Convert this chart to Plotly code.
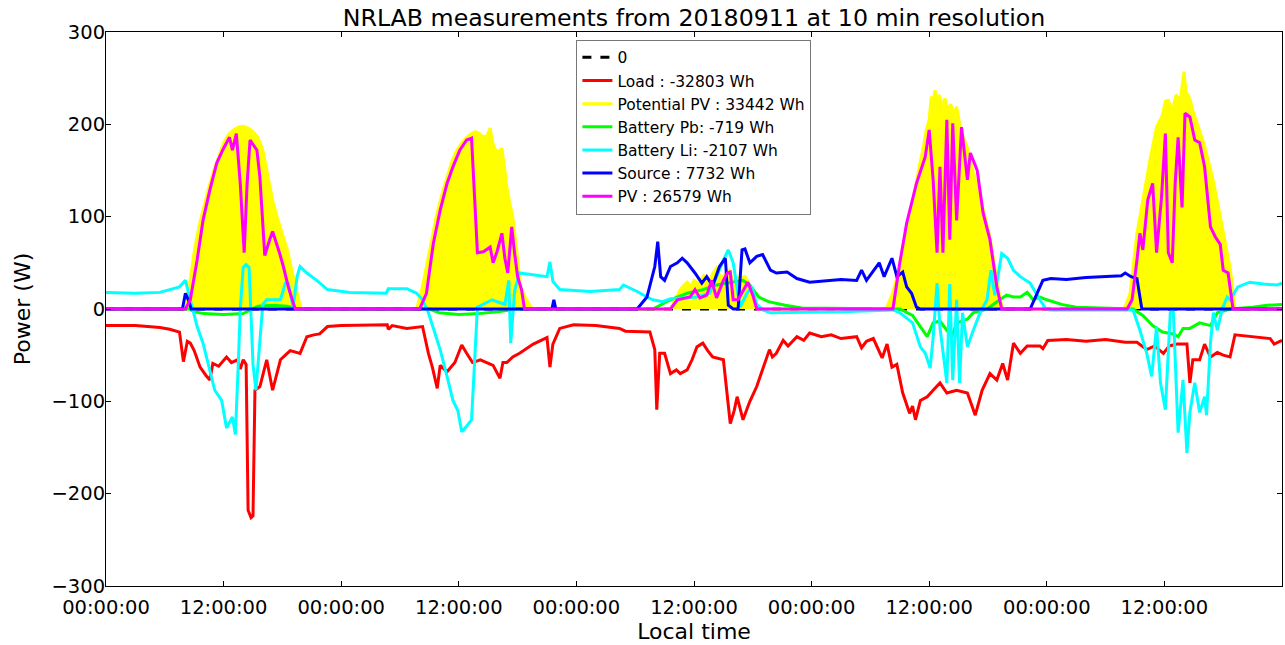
import pandas as pd
import plotly.graph_objects as go

BASE = pd.Timestamp("2018-09-11 00:00:00")

# ---- data (hours since start, watts) ----
zero_h = [0, 120]
zero_v = [0, 0]

load_h = [0, 3, 5.5, 6.5, 7.5, 7.9, 8.3, 8.6, 9.0, 9.6, 10.2, 10.6, 10.9, 11.5, 12.3, 12.8, 13.4, 13.7, 14.0, 14.3,
          14.5, 14.8, 15.0, 15.2, 15.7, 16.4, 17.0, 17.8, 18.3, 18.8, 19.8, 20.5, 21.2, 21.8, 22.6, 24,
          28.7, 28.8, 29.2, 30.7, 32.3, 32.9, 33.3, 33.8, 34.1, 34.8, 35.6, 36.3, 36.8, 37.4, 38.2, 38.9, 39.5,
          40.2, 40.5, 40.9, 41.5, 42.2, 43.0, 43.6, 45.0, 45.3, 45.6, 46.3, 47.7, 50, 52.4,
          53, 55.5, 56.0, 56.2, 56.5, 57.0, 57.6, 58.2, 58.6, 59.3, 59.8, 60.3, 60.9, 61.4, 61.9, 63.0, 63.4,
          63.7, 64.1, 64.4, 65.0, 65.7, 66.4, 67.0, 67.7, 68.0, 68.4, 69.1, 69.6, 70.5, 71.2, 71.8,
          73, 74, 75, 76.6, 77.1, 77.6, 78.3, 79.2, 79.7, 80.2, 80.7, 81.3, 82.0, 82.3, 82.6, 83.1, 83.8, 84.4,
          85.1, 85.8, 86.8, 87.9, 88.7, 89.4, 90.2, 90.9, 91.5, 92.0, 92.6, 93.3, 94.0, 95.3, 95.6, 96.1,
          98, 100, 102, 104, 105.2, 106.2, 107.0, 107.9, 108.5, 109.3, 110.3, 110.6, 110.9, 111.6, 112.1,
          112.7, 113.4, 114.0, 114.7, 115.2, 117, 118.8, 119.2, 120]
load_v = [-18, -18, -20, -22, -25, -57, -35, -37, -45, -63, -72, -77, -59, -62, -52, -58, -55, -65, -55, -60,
          -218, -226, -224, -88, -84, -55, -88, -55, -50, -45, -48, -30, -28, -27, -19, -18,
          -17, -22, -18, -21, -19, -48, -63, -86, -61, -68, -58, -39, -48, -58, -55, -58, -61,
          -75, -58, -58, -52, -48, -42, -38, -31, -63, -38, -21, -17, -18, -21,
          -24, -25, -44, -109, -48, -48, -70, -66, -70, -66, -55, -41, -37, -45, -52, -55, -99,
          -124, -110, -95, -120, -100, -84, -66, -44, -52, -48, -34, -40, -30, -34, -26,
          -30, -28, -32, -30, -42, -35, -32, -53, -38, -63, -60, -91, -113, -105, -120, -99, -95, -88,
          -80, -91, -88, -91, -115, -88, -70, -77, -59, -77, -37, -48, -40, -40, -43, -34,
          -33, -35, -33, -36, -36, -44, -40, -48, -40, -38, -38, -80, -55, -55, -38,
          -52, -47, -50, -52, -28, -30, -32, -38, -34]

ppv_h = [0, 8.1, 8.5, 9.0, 9.5, 10.0, 10.5, 11.0, 11.5, 12.0, 12.5, 13.0, 13.5, 14.0, 14.5, 15.0, 15.5, 16.0,
         16.5, 17.0, 17.5, 18.0, 18.5, 19.0, 19.5, 19.9,
         31.7, 32.2, 32.7, 33.2, 33.7, 34.3, 34.8, 35.3, 35.8, 36.3, 36.8, 37.3, 37.7, 38.1, 38.5, 38.9, 39.2,
         39.5, 39.9, 40.2, 40.4, 40.7, 40.9, 41.2, 41.5, 41.9, 42.3, 42.8, 43.5,
         57.6, 58.0, 58.6, 59.0, 59.3, 59.7, 60.0, 60.5, 61.0, 61.5, 62.0, 62.3, 62.8, 63.2, 63.6, 64.0, 64.5,
         65.2, 65.7, 66.0, 66.5,
         79.6, 80.2, 80.6, 81.0, 81.5, 82.0, 82.4, 82.7, 83.0, 83.4, 83.7, 84.0, 84.2, 84.4, 84.6, 84.8, 85.0,
         85.3, 85.6, 85.9, 86.2, 86.5, 86.8, 87.2, 87.5, 87.9, 88.5, 89.2, 89.7, 90.2, 90.7, 91.2, 91.5,
         103.9, 104.5, 105.2, 105.8, 106.5, 107.2, 107.8, 108.1, 108.4, 108.8, 109.2, 109.6, 110.0, 110.2,
         110.6, 110.9, 111.5, 112.0, 112.5, 112.9, 113.3, 113.7, 114.2, 114.7, 115.0, 115.2, 120]
ppv_v = [0, 0, 25, 62, 90, 112, 132, 150, 166, 180, 189, 194, 197, 198, 196, 192, 186, 172,
         145, 118, 98, 80, 64, 40, 17, 0,
         0, 20, 46, 75, 100, 125, 143, 160, 172, 180, 186, 190, 192, 190, 186, 188, 196,
         178, 169, 172, 174, 150, 132, 115, 100, 64, 24, 12, 0,
         0, 8, 21, 26, 29, 24, 31, 27, 36, 30, 40, 44, 33, 38, 42, 30, 34,
         35, 26, 15, 0,
         0, 15, 30, 45, 72, 96, 120, 140, 155, 175, 194, 205, 230, 223, 237, 215, 232,
         220, 228, 215, 222, 210, 219, 195, 185, 175, 148, 121, 100, 78, 45, 13, 0,
         0, 17, 82, 118, 160, 197, 210, 225, 226, 215, 232, 225, 257, 235,
         228, 215, 195, 180, 160, 143, 122, 100, 72, 45, 20, 0, 0]

pb_h = [0, 8.5, 9.0, 10, 12, 14, 15.5, 17, 18.5, 19.5, 33, 34, 36, 38, 40, 42,
        55.8, 56.5, 57.6, 59.3, 60.9, 62.3, 63.7, 65.0, 65.7, 66.6, 67.6, 69.3, 71,
        81, 82.3, 83.1, 83.8, 84.4, 85.1, 85.8, 86.3, 86.8, 87.9, 88.5, 89.9, 91.2, 91.9, 92.6, 93.3, 94.0,
        94.6, 95.3, 96.0, 97.5, 99, 104.8, 105.8, 106.8, 107.8, 108.9, 109.4, 109.9, 110.6, 111.6, 112.7,
        113.4, 114.7, 117, 118.5, 120]
pb_v = [0, 0, -3, -5, -6, -5, 3, 4, 3, 0, 0, -4, -6, -5, -3, 0,
        0, 4, 10, 17, 21, 26, 29, 31, 26, 13, 8, 4, 1,
        0, -7, -19, -30, -15, -13, -23, -30, -15, -11, -4, 0, 10, 15, 13, 13, 18,
        10, 13, 10, 5, 2, 0, -7, -18, -25, -27, -30, -21, -21, -15, -18,
        -4, 0, 2, 4, 5]

li_h = [0, 3, 5.5, 6.5, 7.5, 8.1, 8.6, 8.9, 9.3, 9.9, 10.6, 11.1, 11.8, 12.3, 12.9, 13.2, 13.5, 13.7, 14.0,
        14.3, 14.6, 14.8, 15.0, 15.3, 15.7, 16.0, 16.4, 17.8, 18.3, 18.6, 19.1, 19.5, 19.8, 20.5, 21.5, 22.6,
        24.9, 28.6, 28.8, 30.7, 31.7, 32.3, 32.9, 33.4, 34.1, 34.8, 35.4, 35.9, 36.3, 36.8, 37.3, 37.6, 37.9,
        39.4, 40.7, 41.1, 41.3, 41.7, 42.2, 45.0, 45.3, 45.6, 46.3, 49.4, 52.4, 52.8, 54.2, 55.2, 55.8, 56.8,
        57.6, 60.3, 61.6, 63.0, 63.5, 64.0, 64.7, 65.4, 65.9, 66.4, 67.0, 67.8, 75, 80.3, 81.0, 82.3, 83.1,
        83.6, 84.1, 84.4, 84.8, 85.1, 85.8, 86.1, 86.4, 86.8, 87.1, 87.4, 87.9, 88.5, 89.2, 89.9, 90.3, 90.7,
        91.4, 92.0, 92.6, 93.3, 94.3, 95.3, 95.9, 96.3, 104.8, 105.5, 106.2, 106.7, 107.2, 107.6, 108.1,
        108.6, 108.9, 109.4, 109.9, 110.3, 110.6, 111.1, 111.6, 112.1, 112.3, 112.7, 113.0, 113.4, 113.9,
        114.4, 114.7, 115.5, 116.7, 118.1, 119.5, 120]
li_v = [18, 17, 18, 21, 24, 31, 10, 0, -19, -37, -65, -88, -99, -129, -117, -136, -60, 0, 45,
        48, 45, 0, -60, -88, -40, 5, 10, 10, 28, 28, 2, 35, 46, 39, 31, 21,
        18, 17, 22, 22, 17, 10, -4, -20, -44, -73, -99, -110, -133, -127, -120, -60, 2,
        10, 5, 31, -37, 20, 39, 35, 51, 30, 21, 19, 21, 26, 19, 13, 10, 8,
        11, 13, 17, 53, 64, 50, 2, 17, 24, 5, -1, -4, -3, -1, -4, -15, -41,
        -48, -64, -31, 28, -20, -80, 27, -77, 10, -80, -4, -41, -23, -4, 10, 42, 15,
        60, 55, 42, 35, 28, 10, 0, -1, -1, -23, -48, -73, -19, -80, -109,
        -4, 0, -134, -77, -156, -112, -80, -112, -95, -115, -37, -4, -23, 0,
        13, 10, 24, 29, 27, 26, 28]

src_h = [0, 7.8, 8.1, 8.4, 8.7, 45.5, 45.7, 45.9, 54.2, 55.2, 56.0, 56.3, 56.6, 57.0, 57.6, 58.3, 58.8, 59.3,
         60.1, 60.8, 61.3, 61.9, 62.6, 63.2, 63.5, 64.0, 64.5, 64.9, 65.2, 65.7, 66.4, 67.0, 67.8, 68.4, 69.5,
         70.5, 71.8, 73, 75, 76.6, 77.1, 77.6, 78.9, 79.4, 80.2, 80.7, 81.3, 81.7, 82.2, 82.7, 83.1,
         94.3, 95.6, 96.4, 98, 100, 102, 103.6, 104.0, 104.6, 105.2, 105.7, 120]
src_v = [0, 0, 17, 10, 0, 0, 10, 0, 0, 13, 46, 73, 35, 31, 46, 50, 55, 50,
         39, 28, 35, 25, 46, 55, 4, 0, 0, 64, 65, 50, 57, 59, 42, 39, 40,
         33, 29, 30, 32, 31, 42, 31, 50, 35, 55, 35, 40, 24, 17, 2, 0,
         0, 31, 33, 32, 34, 35, 36, 39, 35, 33, 0, 0]

pv_h = [0, 8.1, 8.6, 9.3, 9.9, 10.6, 11.3, 11.9, 12.6, 12.9, 13.3, 13.7, 14.1, 14.4, 14.7, 15.4, 15.7, 16.2,
        16.7, 17.0, 17.7, 18.1, 18.6, 19.0, 19.3,
        32.0, 32.7, 33.4, 34.1, 34.8, 35.4, 36.1, 36.8, 37.3, 37.6, 37.9, 38.5, 39.2, 39.5, 39.9, 40.4, 40.7,
        41.0, 41.4, 41.7, 42.0, 42.4, 42.7,
        57.6, 58.3, 59.6, 60.1, 60.6, 61.3, 61.8, 62.3, 63.0, 63.4, 63.7, 64.0, 64.5, 65.0, 65.5, 66.0, 66.4,
        80.3, 81.0, 81.7, 82.7, 83.6, 84.0, 84.4, 84.8, 85.1, 85.4, 85.8, 86.1, 86.4, 86.8, 87.3, 87.9, 88.2,
        88.9, 89.5, 90.2, 90.9, 91.4,
        104.2, 104.7, 105.2, 105.5, 105.8, 106.3, 106.8, 107.2, 107.7, 108.1, 108.4, 108.8, 109.1, 109.4,
        109.8, 110.1, 110.6, 111.1, 111.6, 112.1, 112.7, 113.2, 113.7, 114.0, 114.5, 115.0, 120]
pv_v = [0, 0, 10, 53, 96, 129, 158, 172, 186, 172, 190, 136, 61, 136, 183, 172, 143, 58,
        75, 84, 61, 46, 24, 10, 0,
        0, 17, 71, 107, 136, 154, 172, 183, 185, 118, 61, 62, 67, 50, 62, 82, 55,
        39, 89, 60, 35, 21, 0,
        0, 10, 13, 21, 12, 15, 31, 12, 31, 39, 40, 10, 10, 20, 29, 15, 0,
        0, 50, 93, 136, 165, 194, 140, 61, 154, 61, 205, 75, 201, 96, 197, 140, 169,
        150, 104, 75, 24, 0,
        0, 10, 53, 82, 64, 118, 136, 61, 120, 190, 61, 50, 136, 186,
        110, 212, 208, 183, 180, 154, 89, 78, 70, 42, 39, 0, 0]

names = ["0", "Load : -32803 Wh", "Potential PV : 33442 Wh", "Battery Pb: -719 Wh",
         "Battery Li: -2107 Wh", "Source : 7732 Wh", "PV : 26579 Wh"]


def t(hours):
    return BASE + pd.to_timedelta(hours, unit="h")


LW = 3
fig = go.Figure()
fig.add_trace(go.Scatter(x=t(zero_h), y=zero_v, mode="lines", name=names[0],
                         line=dict(color="black", width=LW, dash="dash")))
fig.add_trace(go.Scatter(x=t(load_h), y=load_v, mode="lines", name=names[1],
                         line=dict(color="#ff0000", width=LW)))
# filled area (no legend entry) + line carrying the legend entry
fig.add_trace(go.Scatter(x=t(ppv_h), y=ppv_v, mode="lines", name=names[2], fill="tozeroy",
                         fillcolor="#ffff00", line=dict(color="#ffff00", width=1),
                         showlegend=False))
fig.add_trace(go.Scatter(x=t(ppv_h), y=ppv_v, mode="lines", name=names[2],
                         line=dict(color="#ffff00", width=LW)))
fig.add_trace(go.Scatter(x=t(pb_h), y=pb_v, mode="lines", name=names[3],
                         line=dict(color="#00ff00", width=LW)))
fig.add_trace(go.Scatter(x=t(li_h), y=li_v, mode="lines", name=names[4],
                         line=dict(color="#00ffff", width=LW)))
fig.add_trace(go.Scatter(x=t(src_h), y=src_v, mode="lines", name=names[5],
                         line=dict(color="#0000ff", width=LW)))
fig.add_trace(go.Scatter(x=t(pv_h), y=pv_v, mode="lines", name=names[6],
                         line=dict(color="#ff00ff", width=LW)))

font = "DejaVu Sans"
fig.update_layout(
    width=1285, height=645,
    margin=dict(l=106, r=3, t=32, b=59, autoexpand=False),
    paper_bgcolor="white", plot_bgcolor="white",
    font=dict(family=font, size=19.5, color="black"),
    title=dict(text="NRLAB measurements from 20180911 at 10 min resolution",
               x=(106 + 1282) / 2 / 1285, xanchor="center", y=1 - 18 / 645, yanchor="middle",
               font=dict(size=23.7)),
    showlegend=True,
    legend=dict(x=0.40, y=0.986, xanchor="left", yanchor="top",
                bgcolor="white", bordercolor="#777777", borderwidth=1,
                font=dict(size=15.5), tracegroupgap=0),
)
fig.update_xaxes(
    range=[t(0), t(120)], type="date", automargin=False,
    tick0=t(0), dtick=12 * 3600 * 1000, tickformat="%H:%M:%S",
    showline=True, linecolor="black", linewidth=1, mirror="ticks",
    ticks="inside", ticklen=5, tickcolor="black", ticklabelstandoff=4,
    showgrid=False, zeroline=False,
    title=dict(text="Local time", font=dict(size=22), standoff=4),
)
fig.update_yaxes(
    range=[-300, 300], dtick=100, automargin=False,
    showline=True, linecolor="black", linewidth=1, mirror="ticks",
    ticks="inside", ticklen=5, tickcolor="black", ticklabelstandoff=-4,
    showgrid=False, zeroline=False,
    title=dict(text="Power (W)", font=dict(size=22), standoff=14),
)

fig.write_html("out.html", config={"displayModeBar": False},
               post_script="document.body.style.margin='0px';")
